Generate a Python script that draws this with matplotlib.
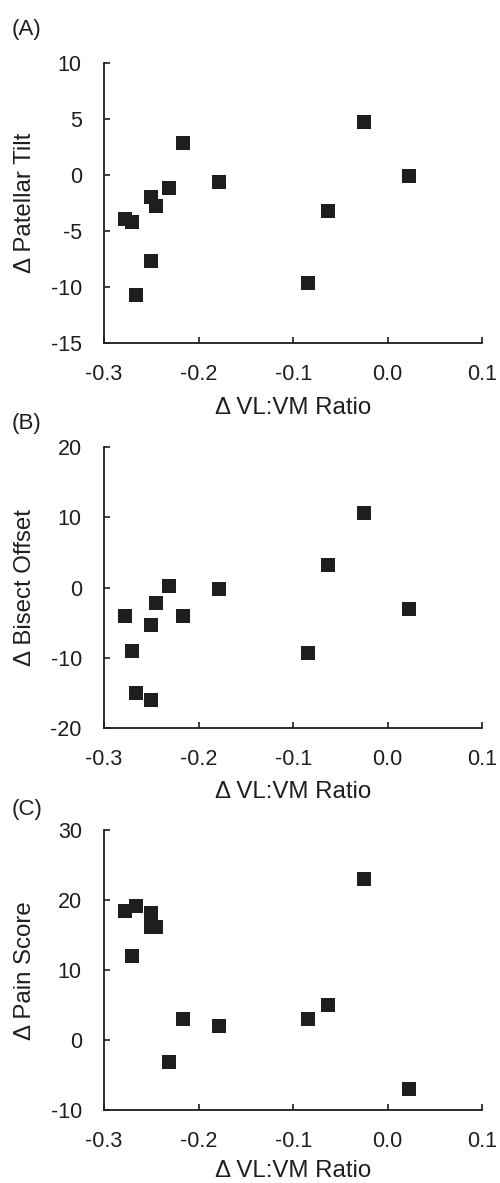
import matplotlib
matplotlib.use("Agg")
import matplotlib.pyplot as plt

plt.rcParams['font.family'] = ['Liberation Sans', 'DejaVu Sans']
plt.rcParams['axes.unicode_minus'] = False

vl_vm_ratio = [-0.278, -0.2707, -0.2662, -0.2507, -0.25, -0.245, -0.2309,
               -0.2161, -0.1781, -0.084, -0.0628, -0.0248, 0.0228]
patellar_tilt = [-3.9, -4.14, -10.71, -1.9, -7.62, -2.71, -1.16,
                 2.86, -0.57, -9.64, -3.15, 4.79, -0.06]
bisect_offset = [-4.11, -9.01, -15.0, -5.3, -16.0, -2.26, 0.26,
                 -4.11, -0.26, -9.30, 3.16, 10.58, -3.12]
pain_score = [18.49, 12.07, 19.16, 18.16, 16.16, 16.16, -3.06,
              2.98, 2.03, 2.98, 4.98, 23.06, -7.0]

x_ticks = [-0.3, -0.2, -0.1, 0.0, 0.1]
x_tick_labels = ["-0.3", "-0.2", "-0.1", "0.0", "0.1"]

panels = [
    ("(A)", "\u0394 Patellar Tilt", patellar_tilt, (-15, 10), [-15, -10, -5, 0, 5, 10]),
    ("(B)", "\u0394 Bisect Offset", bisect_offset, (-20, 20), [-20, -10, 0, 10, 20]),
    ("(C)", "\u0394 Pain Score", pain_score, (-10, 30), [-10, 0, 10, 20, 30]),
]

W, H = 500, 1183
fig = plt.figure(figsize=(W / 100, H / 100), dpi=100)

ax_left, ax_right = 104, 482.3
tops = [63.3, 447.3, 830.0]
bottoms = [343.3, 727.7, 1110.3]
xlabel_y = [408, 792, 1171]
panel_label_y = [30, 424, 809]
tick_fs = 15.5
label_fs = 17.3
panel_fs = 16
col = '#1e1e1e'

for (lab, ylab, yvals, ylim, yticks), top, bot, ly, xly in zip(panels, tops, bottoms,
                                                                panel_label_y, xlabel_y):
    ax = fig.add_axes([ax_left / W, 1 - bot / H, (ax_right - ax_left) / W, (bot - top) / H])
    ax.scatter(vl_vm_ratio, yvals, marker='s', s=95, color=col, linewidths=0, zorder=3, clip_on=False)
    ax.set_xlim(-0.3, 0.1)
    ax.set_ylim(*ylim)
    ax.set_xticks(x_ticks)
    ax.set_xticklabels(x_tick_labels)
    ax.set_yticks(yticks)
    for s in ['top', 'right']:
        ax.spines[s].set_visible(False)
    for s in ['left', 'bottom']:
        ax.spines[s].set_linewidth(1.3)
        ax.spines[s].set_color(col)
    ax.tick_params(direction='in', length=4, width=1.2, color=col, labelsize=tick_fs,
                   labelcolor=col)
    ax.tick_params(axis='x', pad=15)
    ax.tick_params(axis='y', pad=16)
    ax.set_xlabel("\u0394 VL:VM Ratio", fontsize=label_fs, color=col)
    ax.xaxis.set_label_coords(0.5, -(xly - bot) / (bot - top))
    ax.xaxis.label.set_va('center')
    ax.set_ylabel(ylab, fontsize=label_fs, color=col)
    ax.yaxis.set_label_coords((25 - ax_left) / (ax_right - ax_left), 0.5)
    ax.yaxis.label.set_va('center')
    fig.text(12 / W, 1 - ly / H, lab, fontsize=panel_fs, color=col, ha='left', va='center')

fig.savefig("out.png", dpi=100)
